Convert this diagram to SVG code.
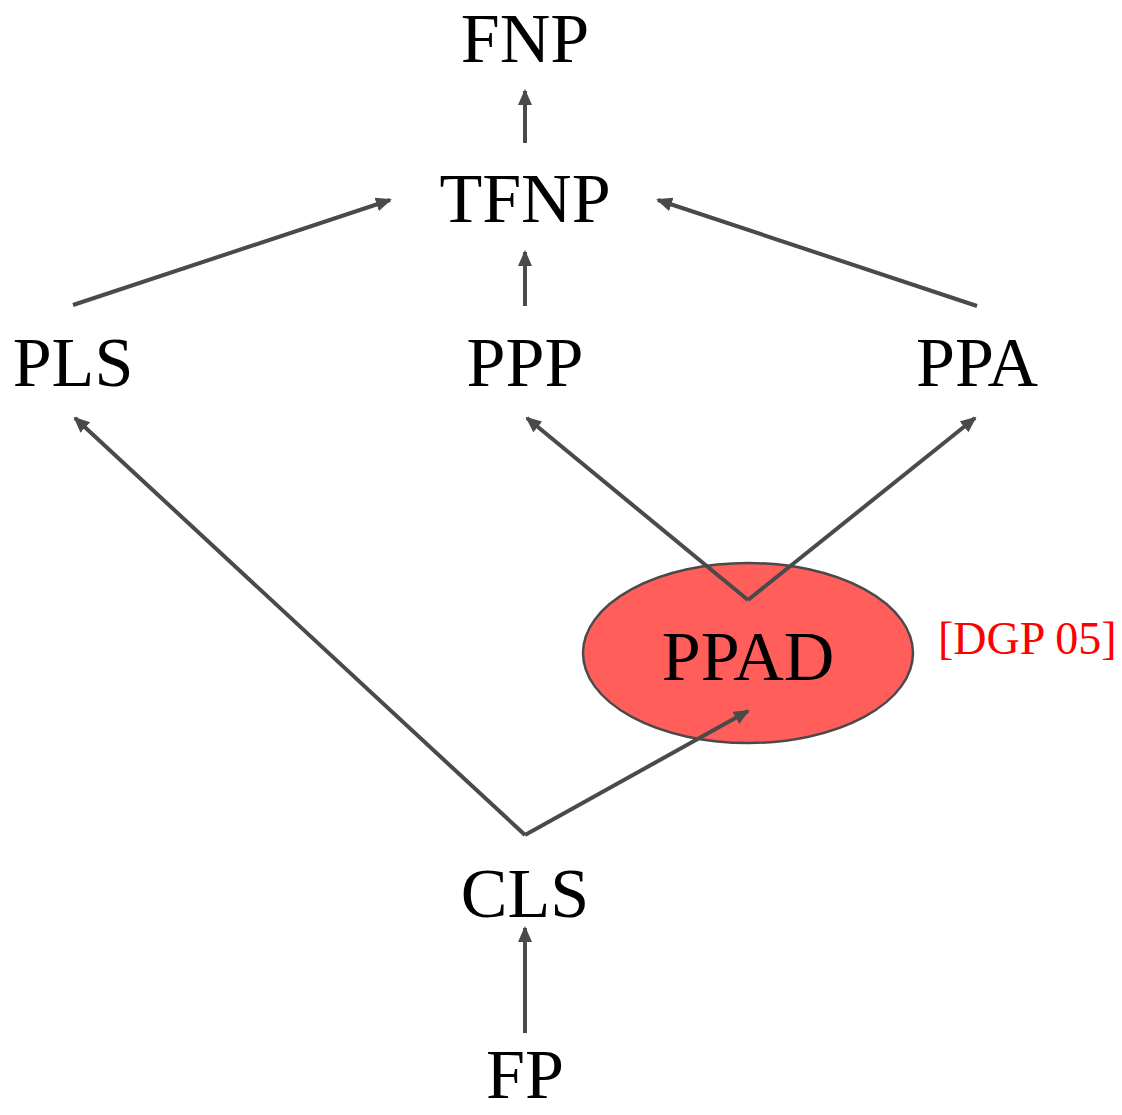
<svg xmlns="http://www.w3.org/2000/svg" width="1122" height="1115" viewBox="0 0 1122 1115">
  <style>
    .label { font-family: "Liberation Serif", "DejaVu Serif", serif; font-size: 70px; fill: #000; text-anchor: middle; }
    .cite { font-family: "Liberation Serif", "DejaVu Serif", serif; font-size: 46px; fill: #ff0000; }
    .edge { stroke: #4a4a4a; stroke-width: 4; fill: none; marker-end: url(#arrow); }
  </style>
  <defs>
    <marker id="arrow" markerUnits="userSpaceOnUse" markerWidth="16" markerHeight="14" refX="14" refY="7" orient="auto">
      <path d="M0,0 L16,7 L0,14 Z" fill="#4a4a4a"/>
    </marker>
  </defs>

  <g id="node-ppad">
    <ellipse cx="748" cy="653" rx="165" ry="90" fill="#ff5e5b" stroke="#4a4a4a" stroke-width="2.5"/>
    <text class="label" x="748" y="680">PPAD</text>
  </g>

  <g id="connectors">
    <line class="edge" x1="525" y1="143" x2="525" y2="91"/>
    <line class="edge" x1="525" y1="306" x2="525" y2="252"/>
    <line class="edge" x1="73" y1="305" x2="390" y2="200"/>
    <line class="edge" x1="977" y1="306" x2="658" y2="200"/>
    <line class="edge" x1="748" y1="600" x2="527" y2="418"/>
    <line class="edge" x1="748" y1="600" x2="975" y2="418"/>
    <line class="edge" x1="525" y1="835" x2="75" y2="418"/>
    <line class="edge" x1="525" y1="835" x2="748" y2="711"/>
    <line class="edge" x1="525" y1="1033" x2="525" y2="928"/>
  </g>

  <g id="node-fnp"><text class="label" x="525" y="62">FNP</text></g>
  <g id="node-tfnp"><text class="label" x="525" y="222">TFNP</text></g>
  <g id="node-pls"><text class="label" x="73" y="386">PLS</text></g>
  <g id="node-ppp"><text class="label" x="525" y="386">PPP</text></g>
  <g id="node-ppa"><text class="label" x="977" y="386">PPA</text></g>
  <g id="node-cls"><text class="label" x="525" y="917">CLS</text></g>
  <g id="node-fp"><text class="label" x="525" y="1098">FP</text></g>
  <g id="cite-dgp"><text class="cite" x="938" y="654">[DGP 05]</text></g>
</svg>
